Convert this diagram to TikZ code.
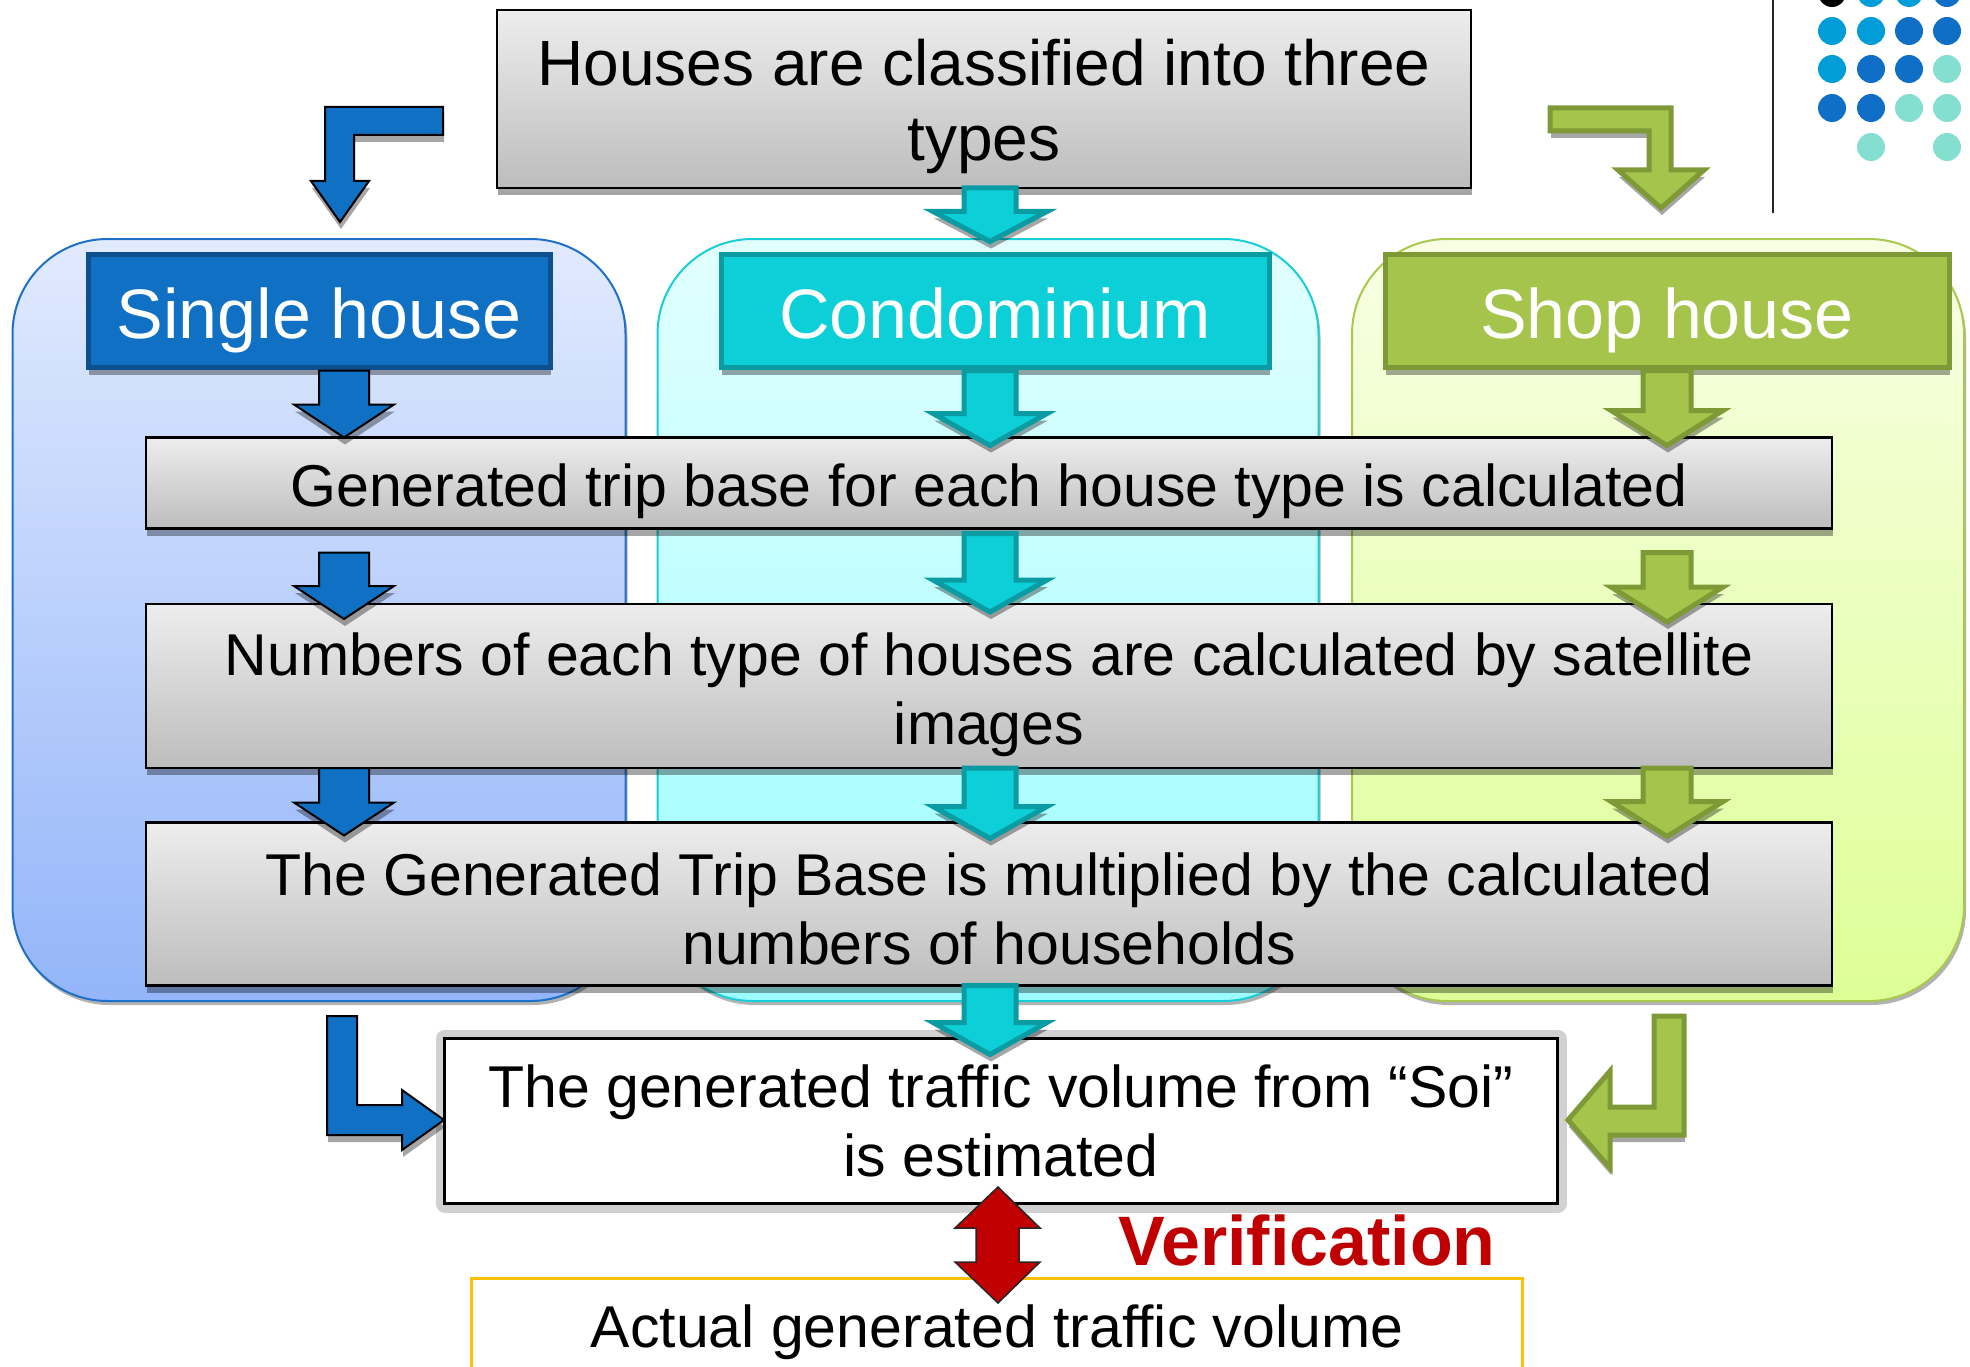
\documentclass[tikz,border=0pt]{standalone}
\usepackage{fontspec}
\setmainfont{Liberation Sans}
\usepackage{xcolor}
\usetikzlibrary{calc,shadows}

\definecolor{singleblue}{HTML}{1070C4}
\definecolor{singledark}{HTML}{0E4F8E}
\definecolor{singletop}{HTML}{E1EAFE}
\definecolor{singlebottom}{HTML}{93B5F9}
\definecolor{singleline}{HTML}{1E70C8}
\definecolor{condocyan}{HTML}{0CCFD8}
\definecolor{condodark}{HTML}{0A9BA3}
\definecolor{condotop}{HTML}{E2FFFF}
\definecolor{condobottom}{HTML}{9CFCFF}
\definecolor{condoline}{HTML}{18CDD8}
\definecolor{shopgreen}{HTML}{A5C44C}
\definecolor{shopdark}{HTML}{7E9A36}
\definecolor{shoptop}{HTML}{F8FFE4}
\definecolor{shopbottom}{HTML}{DDFF96}
\definecolor{shopline}{HTML}{A9C84E}
\definecolor{boxtop}{HTML}{EDEDED}
\definecolor{boxbottom}{HTML}{BDBDBD}
\definecolor{verifred}{HTML}{C00000}
\definecolor{actualorange}{HTML}{FFC000}
\definecolor{dotcyan}{HTML}{009DD9}
\definecolor{dotblue}{HTML}{0F6FC6}
\definecolor{dotteal}{HTML}{85DFD0}

% tall first line, so the text of a step sits a little low in its box
\newcommand{\tallstrut}[1][60]{\rule{0pt}{#1pt}}

% block arrow pointing down: style, start, end, half shaft, half head, head length
\newcommand{\blockdown}[6]{%
	\path[#1] let \p1=#2, \p2=#3 in
		(\x1-#4pt,\y1) -- (\x1+#4pt,\y1) -- (\x1+#4pt,\y2+#6pt) -- (\x1+#5pt,\y2+#6pt)
		-- (\x1,\y2) -- (\x1-#5pt,\y2+#6pt) -- (\x1-#4pt,\y2+#6pt) -- cycle;%
}

\begin{document}
\begin{tikzpicture}[
		x=1pt, y=-1pt,
		softshadow/.style={drop shadow={shadow xshift=1pt, shadow yshift=-7pt, fill=black, opacity=.35}},
		housearea/.style={
			rounded corners=95pt,
			line width=2pt,
			inner sep=0pt, outer sep=0pt,
			drop shadow={shadow xshift=2pt, shadow yshift=-4pt, fill=black, opacity=.3}
		},
		househeader/.style={
			line width=5pt,
			inner sep=0pt, outer sep=0pt,
			text=white,
			text height=60pt, text depth=5pt,
			font=\fontsize{70}{80}\selectfont,
			softshadow
		},
		stepbox/.style={
			draw=black,
			line width=2.5pt,
			top color=boxtop, bottom color=boxbottom,
			inner sep=0pt, outer sep=0pt,
			align=center,
			font=\fontsize{59}{69}\selectfont,
			softshadow
		},
		resultbox/.style={
			line width=2.5pt,
			fill=white,
			inner sep=0pt, outer sep=0pt,
			align=center,
			font=\fontsize{59}{69}\selectfont
		},
		bluearrow/.style={fill=singleblue, draw=black, line width=2pt, line join=miter, softshadow},
		cyanarrow/.style={fill=condocyan, draw=condodark, line width=5pt, line join=miter, softshadow},
		greenarrow/.style={fill=shopgreen, draw=shopdark, line width=5pt, line join=miter, softshadow}
	]
	\useasboundingbox (0,0) rectangle (1970,1367);
	\clip (0,0) rectangle (1970,1367);

	% background areas of the three house types
	\node[housearea, top color=singletop, bottom color=singlebottom, draw=singleline,
		minimum width=613, minimum height=762] (singleArea) at (319,620) {};
	\node[housearea, top color=condotop, bottom color=condobottom, draw=condoline,
		minimum width=661, minimum height=762] (condoArea) at (988,620) {};
	\node[housearea, top color=shoptop, bottom color=shopbottom, draw=shopline,
		minimum width=612, minimum height=762] (shopArea) at (1658,620) {};

	% headers
	\node[househeader, fill=singleblue, draw=singledark, minimum width=462, minimum height=113] (single) at (319,311) {Single house};
	\node[househeader, fill=condocyan, draw=condodark, minimum width=548, minimum height=113] (condo) at (995,311) {Condominium};
	\node[househeader, fill=shopgreen, draw=shopdark, minimum width=564, minimum height=113] (shop) at (1667,311) {Shop house};

	% steps
	\node[stepbox, minimum width=974, minimum height=178,
		font=\fontsize{64}{75}\selectfont] (classify) at (984,99)
		{\tallstrut[62]Houses are classified into three\\types};
	\node[stepbox, minimum width=1686, minimum height=91] (tripBase) at (989,483)
		{\tallstrut Generated trip base for each house type is calculated};
	\node[stepbox, minimum width=1686, minimum height=164] (counting) at (989,686)
		{\tallstrut[61]Numbers of each type of houses are calculated by satellite\\images};
	\node[stepbox, minimum width=1686, minimum height=163] (multiply) at (989,904)
		{\tallstrut[52]The Generated Trip Base is multiplied by the calculated\\numbers of households};
	\node[resultbox, draw=black, preaction={draw=black!18, line width=18pt, line join=round},
		minimum width=1113, minimum height=165] (estimate) at (1001,1121)
		{The generated traffic volume from ``Soi''\\is estimated};
	\node[resultbox, draw=actualorange, line width=3pt, minimum width=1051, minimum height=142] (actual) at (997,1349) {};
	\node[font=\fontsize{59}{69}\selectfont, anchor=base] (actualText) at (997,1347) {Actual generated traffic volume};
	\node[text=verifred, font=\fontsize{70}{80}\selectfont\bfseries] (verify) at (1307,1240) {Verification};

	% column positions of the arrows
	\coordinate (colS) at (344,0);
	\coordinate (colC) at (990,0);
	\coordinate (colH) at (1667,0);

	% single house column
	\blockdown{bluearrow}{($(colS |- single.south)+(0,3)$)}{(colS |- tripBase.north)}{25}{50}{33}
	\blockdown{bluearrow}{($(colS |- tripBase.south)+(0,24)$)}{($(colS |- counting.north)+(0,15)$)}{25}{50}{33}
	\blockdown{bluearrow}{(colS |- counting.south)}{($(colS |- multiply.north)+(0,13)$)}{25}{50}{33}

	% condominium column
	\blockdown{cyanarrow}{(colC |- classify.south)}{($(colC |- condo.north)+(0,-13)$)}{26}{57}{30}
	\blockdown{cyanarrow}{($(colC |- condo.south)+(0,3)$)}{($(colC |- tripBase.north)+(0,8)$)}{26}{57}{32}
	\blockdown{cyanarrow}{($(colC |- tripBase.south)+(0,5)$)}{($(colC |- counting.north)+(0,8)$)}{26}{57}{32}
	\blockdown{cyanarrow}{(colC |- counting.south)}{($(colC |- multiply.north)+(0,16)$)}{26}{57}{32}
	\blockdown{cyanarrow}{(colC |- multiply.south)}{($(colC |- estimate.north)+(0,16)$)}{26}{57}{32}

	% shop house column
	\blockdown{greenarrow}{($(colH |- shop.south)+(0,3)$)}{($(colH |- tripBase.north)+(0,8)$)}{24}{56}{35}
	\blockdown{greenarrow}{($(colH |- tripBase.south)+(0,24)$)}{($(colH |- counting.north)+(0,18)$)}{24}{56}{35}
	\blockdown{greenarrow}{(colH |- counting.south)}{($(colH |- multiply.north)+(0,14)$)}{24}{56}{35}

	% bent arrows
	\path[bluearrow] (443,107) -- (325,107) -- (325,181) -- (311,181) -- (340,222)
		-- (369,181) -- (354,181) -- (354,135) -- (443,135) -- cycle;
	\path[greenarrow] (1550,108) -- (1671,108) -- (1671,170) -- (1704,170) -- (1661,208)
		-- (1618,170) -- (1649,170) -- (1649,131) -- (1550,131) -- cycle;
	\path[bluearrow] (327,1016) -- (357,1016) -- (357,1105) -- (402,1105) -- (402,1090)
		-- (444,1120) -- (402,1150) -- (402,1135) -- (327,1135) -- cycle;
	\path[greenarrow] (1684,1016) -- (1654,1016) -- (1654,1107) -- (1610,1107) -- (1610,1071)
		-- (1568,1120) -- (1610,1168) -- (1610,1135) -- (1684,1135) -- cycle;

	% verification arrow
	\path[fill=verifred, draw=black!85, line width=1.5pt]
		(998,1187) -- (1040,1228) -- (1019,1228) -- (1019,1262) -- (1040,1262) -- (998,1303)
		-- (955,1262) -- (976,1262) -- (976,1228) -- (955,1228) -- cycle;

	% corner ornament
	\draw[line width=2pt, black!85] (1773,0) -- (1773,213);
	\foreach \dx/\dy/\dc in {
		1832/-7/black, 1871/-7/dotcyan, 1909/-7/dotcyan, 1947/-7/dotblue,
		1832/31/dotcyan, 1871/31/dotcyan, 1909/31/dotblue, 1947/31/dotblue,
		1832/69/dotcyan, 1871/69/dotblue, 1909/69/dotblue, 1947/69/dotteal,
		1832/108/dotblue, 1871/108/dotblue, 1909/108/dotteal, 1947/108/dotteal,
		1871/147/dotteal, 1947/147/dotteal}
		\fill[\dc] (\dx,\dy) circle (14pt);
\end{tikzpicture}
\end{document}
